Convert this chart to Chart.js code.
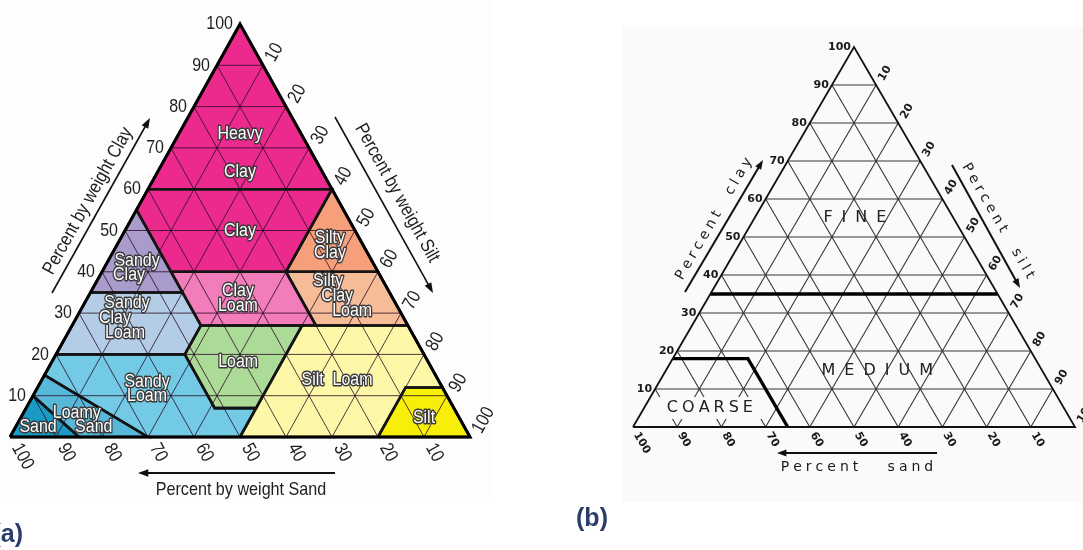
<!DOCTYPE html>
<html>
<head>
<meta charset="utf-8">
<script src="https://cdn.jsdelivr.net/npm/chart.js@4/dist/chart.umd.min.js"></script>
<style>
  html, body { margin: 0; padding: 0; background: #fff; }
  #chart { display: block; }
</style>
</head>
<body>
<canvas id="chart" width="1083" height="550"></canvas>
<script>
// every ternary point is [sand %, clay %]; silt is what is left over
const gridSteps = [10, 20, 30, 40, 50, 60, 70, 80, 90];
const tickValues = [10, 20, 30, 40, 50, 60, 70, 80, 90, 100];

// (a) soil texture classes
const textureNames = [
  "Heavy Clay", "Clay", "Sandy Clay", "Silty Clay", "Clay Loam", "Silty Clay Loam",
  "Sandy Clay Loam", "Loam", "Sandy Loam", "Silt Loam", "Silt", "Loamy Sand", "Sand"
];
const textureShapes = [
  [[40, 60], [0, 100], [0, 60]],
  [[45, 55], [40, 60], [0, 60], [20, 40], [45, 40]],
  [[65, 35], [45, 55], [45, 35]],
  [[0, 60], [0, 40], [20, 40]],
  [[45, 40], [20, 40], [20, 27], [45, 27]],
  [[20, 40], [0, 40], [0, 27], [20, 27]],
  [[80, 20], [65, 35], [45, 35], [45, 27], [52, 20]],
  [[52, 20], [45, 27], [23, 27], [43, 7], [52, 7]],
  [[70, 0], [85, 15], [80, 20], [52, 20], [52, 7], [43, 7], [50, 0]],
  [[50, 0], [23, 27], [0, 27], [0, 12], [8, 12], [20, 0]],
  [[20, 0], [8, 12], [0, 12], [0, 0]],
  [[85, 0], [90, 10], [85, 15], [70, 0]],
  [[100, 0], [90, 10], [85, 0]]
];
const textureColors = [
  "#ec2a8e", "#ec2a8e", "#a99bcb", "#f6a07b", "#f27dba", "#f6bc98",
  "#b3cde6", "#acda97", "#72cae4", "#fdf8a8", "#f7ef0a", "#58b8da", "#1b9ac6"
];
const textureLabelLines = [
  ["Heavy", "Clay"], ["Clay"], ["Sandy", "Clay"], ["Silty", "Clay"], ["Clay", "Loam"],
  ["Silty", "Clay", "Loam"], ["Sandy", "Clay", "Loam"], ["Loam"], ["Sandy", "Loam"],
  ["Silt  Loam"], ["Silt"], ["Loamy", "Sand"], ["Sand"]
];
const textureLabelAt = [
  [15.6, 68.8], [25, 50], [52.8, 40.9], [7.2, 46.5], [33.6, 33.7], [11.4, 34.1],
  [60.6, 28.8], [41.3, 18.2], [64.4, 11.6], [22, 13.8], [7.7, 4.6], [81.7, 4.1], [92.7, 2.4]
];

// (b) fine / medium / coarse groups
const groupNames = ["FINE", "MEDIUM", "COARSE"];
const groupBoundaries = [
  [[65, 35], [0, 35]],
  [[82, 18], [65, 18], [65, 0]]
];
const groupLabelAt = [[22.3, 55], [37.4, 14.7], [80.1, 5]];

// where each triangle sits on the page
const panelA = { x0: 10, w: 460, base: 437, h: 413 };
const panelB = { x0: 633, w: 442, base: 427, h: 380 };

function tern(p, sand, clay) {
  return {
    x: p.x0 + (1 - sand / 100 - clay / 200) * p.w,
    y: p.base - (clay / 100) * p.h
  };
}

const gap = { x: null, y: null };

function gridPoints(p) {
  const pts = [];
  gridSteps.forEach((k) => {
    pts.push(tern(p, 100 - k, k), tern(p, 0, k), gap);
    pts.push(tern(p, k, 0), tern(p, k, 100 - k), gap);
    pts.push(tern(p, 100 - k, 0), tern(p, 0, 100 - k), gap);
  });
  return pts;
}

function outline(p) {
  return [tern(p, 100, 0), tern(p, 0, 100), tern(p, 0, 0), tern(p, 100, 0)];
}

const datasets = [];

textureShapes.forEach((shape, i) => {
  const pts = shape.map(([s, c]) => tern(panelA, s, c));
  pts.push(pts[0]);
  datasets.push({
    label: textureNames[i],
    data: pts,
    fill: "shape",
    backgroundColor: textureColors[i],
    borderColor: textureColors[i],
    borderWidth: 1,
    order: 6
  });
  datasets.push({
    label: textureNames[i] + " edge",
    data: pts,
    fill: false,
    borderColor: "#141414",
    borderWidth: 2.6,
    order: 3
  });
});

datasets.push({
  label: "grid a",
  data: gridPoints(panelA),
  fill: false,
  borderColor: "rgba(40, 10, 35, 0.8)",
  borderWidth: 1,
  order: 4
});
datasets.push({
  label: "frame a",
  data: outline(panelA),
  fill: false,
  borderColor: "#000",
  borderWidth: 3,
  order: 1
});

datasets.push({
  label: "grid b",
  data: gridPoints(panelB),
  fill: false,
  borderColor: "rgba(20, 20, 20, 0.85)",
  borderWidth: 1.1,
  order: 4
});
groupBoundaries.forEach((line, i) => {
  datasets.push({
    label: "boundary b " + i,
    data: line.map(([s, c]) => tern(panelB, s, c)),
    fill: false,
    borderColor: "#000",
    borderWidth: 3.4,
    order: 2
  });
});
datasets.push({
  label: "frame b",
  data: outline(panelB),
  fill: false,
  borderColor: "#111",
  borderWidth: 1.8,
  order: 1
});

const SANS = '"Liberation Sans", Arial, sans-serif';

function arrow(ctx, x1, y1, x2, y2, lw, head) {
  const a = Math.atan2(y2 - y1, x2 - x1);
  ctx.save();
  ctx.strokeStyle = "#111";
  ctx.fillStyle = "#111";
  ctx.lineWidth = lw;
  ctx.beginPath();
  ctx.moveTo(x1, y1);
  ctx.lineTo(x2 - Math.cos(a) * head * 0.6, y2 - Math.sin(a) * head * 0.6);
  ctx.stroke();
  ctx.beginPath();
  ctx.moveTo(x2, y2);
  ctx.lineTo(x2 - head * Math.cos(a - 0.35), y2 - head * Math.sin(a - 0.35));
  ctx.lineTo(x2 - head * Math.cos(a + 0.35), y2 - head * Math.sin(a + 0.35));
  ctx.closePath();
  ctx.fill();
  ctx.restore();
}

// condensed text: the narrow face is not installed, so squeeze a regular one
function narrowText(ctx, txt, x, y, angle, squeeze, stroke) {
  ctx.save();
  ctx.translate(x, y);
  ctx.rotate(angle || 0);
  ctx.scale(squeeze, 1);
  if (stroke) ctx.strokeText(txt, 0, 0);
  ctx.fillText(txt, 0, 0);
  ctx.restore();
}

function spacedText(ctx, text, x, y, extra) {
  const chars = [...text];
  const widths = chars.map((ch) => ctx.measureText(ch).width);
  const total = widths.reduce((a, b) => a + b, 0) + extra * (chars.length - 1);
  let cx = x - total / 2;
  ctx.textAlign = "left";
  chars.forEach((ch, i) => {
    ctx.fillText(ch, cx, y);
    cx += widths[i] + extra;
  });
}

function rotated(ctx, x, y, angle, draw) {
  ctx.save();
  ctx.translate(x, y);
  ctx.rotate(angle);
  draw();
  ctx.restore();
}

const backdrop = {
  id: "backdrop",
  beforeDatasetsDraw(chart) {
    const ctx = chart.ctx;
    ctx.save();
    ctx.fillStyle = "#fdfdfd";
    ctx.fillRect(0, 0, 492, 497);
    ctx.fillStyle = "#fafafa";
    ctx.fillRect(622, 27, 461, 475);
    ctx.restore();
  }
};

const annotations = {
  id: "annotations",
  afterDatasetsDraw(chart) {
    const ctx = chart.ctx;
    const xs = chart.scales.x;
    const ys = chart.scales.y;
    const at = (p, s, c) => {
      const q = tern(p, s, c);
      return [xs.getPixelForValue(q.x), ys.getPixelForValue(q.y)];
    };
    const edgeA = Math.atan2(panelA.h, panelA.w / 2);
    const edgeB = Math.atan2(panelB.h, panelB.w / 2);

    ctx.save();
    ctx.textBaseline = "middle";

    // ---- (a) class names
    const lineGap = { "Heavy Clay": 38, "Loamy Sand": 14, "Sandy Clay": 14, "Sandy Loam": 14 };
    const lineShift = { "Silty Clay Loam": [-11, -2, 13], "Loamy Sand": [-8, 9], "Sandy Clay": [4, -4], "Sandy Clay Loam": [2, -10, 0] };
    ctx.font = "19px " + SANS;
    ctx.lineJoin = "round";
    ctx.lineWidth = 3;
    ctx.strokeStyle = "#3a3a3a";
    ctx.fillStyle = "#fff";
    ctx.textAlign = "center";
    textureLabelLines.forEach((lines, i) => {
      const [cx, cy] = at(panelA, textureLabelAt[i][0], textureLabelAt[i][1]);
      const g = lineGap[textureNames[i]] || 15;
      const shift = lineShift[textureNames[i]] || [];
      lines.forEach((txt, j) => {
        const y = cy + (j - (lines.length - 1) / 2) * g;
        const x = cx + (shift[j] || 0);
        narrowText(ctx, txt, x, y, 0, 0.84, true);
      });
    });

    // ---- (a) ticks
    ctx.fillStyle = "#1e1e1e";
    ctx.font = "19px " + SANS;
    ctx.textAlign = "right";
    tickValues.forEach((v) => {
      const [x, y] = at(panelA, 100 - v, v);
      narrowText(ctx, String(v), x - 7, y, 0, 0.84);
    });
    ctx.textAlign = "left";
    tickValues.forEach((v) => {
      const [x, y] = at(panelA, 0, 100 - v);
      narrowText(ctx, String(v), x + 7, y - 5, -edgeA, 0.84);
      const [bx, by] = at(panelA, v, 0);
      narrowText(ctx, String(v), bx + 6, by + 8, edgeA, 0.84);
    });

    // ---- (a) axis titles
    ctx.font = "19px " + SANS;
    ctx.textAlign = "center";
    narrowText(ctx, "Percent by weight Clay", 88, 201, -edgeA, 0.85);
    narrowText(ctx, "Percent by weight Silt", 397, 193, edgeA, 0.85);
    narrowText(ctx, "Percent by weight Sand", 241, 490, 0, 0.85);
    arrow(ctx, 52, 293, 150, 118, 1.6, 11);
    arrow(ctx, 335, 117, 433, 293, 1.6, 11);
    arrow(ctx, 335, 473, 138, 473, 1.8, 11);

    // ---- (b) clear the grid behind COARSE
    ctx.fillStyle = "#fafafa";
    ctx.fillRect(656, 397, 108, 22);

    // ---- (b) group names
    ctx.fillStyle = "#222";
    ctx.font = '16px "DejaVu Sans", sans-serif';
    const spacing = { FINE: 9, MEDIUM: 9, COARSE: 4 };
    groupNames.forEach((name, i) => {
      const [x, y] = at(panelB, groupLabelAt[i][0], groupLabelAt[i][1]);
      spacedText(ctx, name, x, y, spacing[name]);
    });

    // ---- (b) ticks
    ctx.font = 'bold 11px "DejaVu Sans", sans-serif';
    ctx.fillStyle = "#1a1a1a";
    ctx.textAlign = "right";
    tickValues.forEach((v) => {
      const [x, y] = at(panelB, 100 - v, v);
      ctx.fillText(String(v), x - 3, y);
    });
    ctx.textAlign = "left";
    tickValues.forEach((v) => {
      const [x, y] = at(panelB, 0, 100 - v);
      rotated(ctx, x + 5, y - 5, -edgeB, () => ctx.fillText(String(v), 0, 0));
      const [bx, by] = at(panelB, v, 0);
      rotated(ctx, bx + 3, by + 6, edgeB, () => ctx.fillText(String(v), 0, 0));
    });

    // ---- (b) axis titles
    ctx.font = '14px "DejaVu Sans", sans-serif';
    ctx.fillStyle = "#1a1a1a";
    rotated(ctx, 714, 219, -edgeB, () => spacedText(ctx, "Percent  clay", 0, 0, 4));
    rotated(ctx, 998, 221, edgeB, () => spacedText(ctx, "Percent  silt", 0, 0, 4));
    spacedText(ctx, "Percent   sand", 857, 467, 4);
    arrow(ctx, 685, 292, 763, 160, 2, 10);
    arrow(ctx, 952, 165, 1020, 288, 2, 10);
    arrow(ctx, 937, 453, 777, 453, 2, 10);

    // ---- panel letters
    ctx.font = 'bold 25px ' + SANS;
    ctx.fillStyle = "#2b3d6b";
    ctx.textAlign = "right";
    ctx.fillText("(a)", 23, 535);
    ctx.textAlign = "center";
    ctx.fillText("(b)", 592, 519);

    ctx.restore();
  }
};

new Chart(document.getElementById("chart"), {
  type: "line",
  data: { datasets },
  options: {
    responsive: false,
    animation: false,
    devicePixelRatio: 1,
    layout: { padding: 0 },
    elements: {
      point: { radius: 0, hoverRadius: 0 },
      line: { tension: 0, borderJoinStyle: "miter" }
    },
    spanGaps: false,
    scales: {
      x: { type: "linear", min: 0, max: 1083, display: false },
      y: { type: "linear", min: 0, max: 550, reverse: true, display: false }
    },
    plugins: {
      legend: { display: false },
      tooltip: { enabled: false }
    },
    events: []
  },
  plugins: [backdrop, annotations]
});
</script>
</body>
</html>
